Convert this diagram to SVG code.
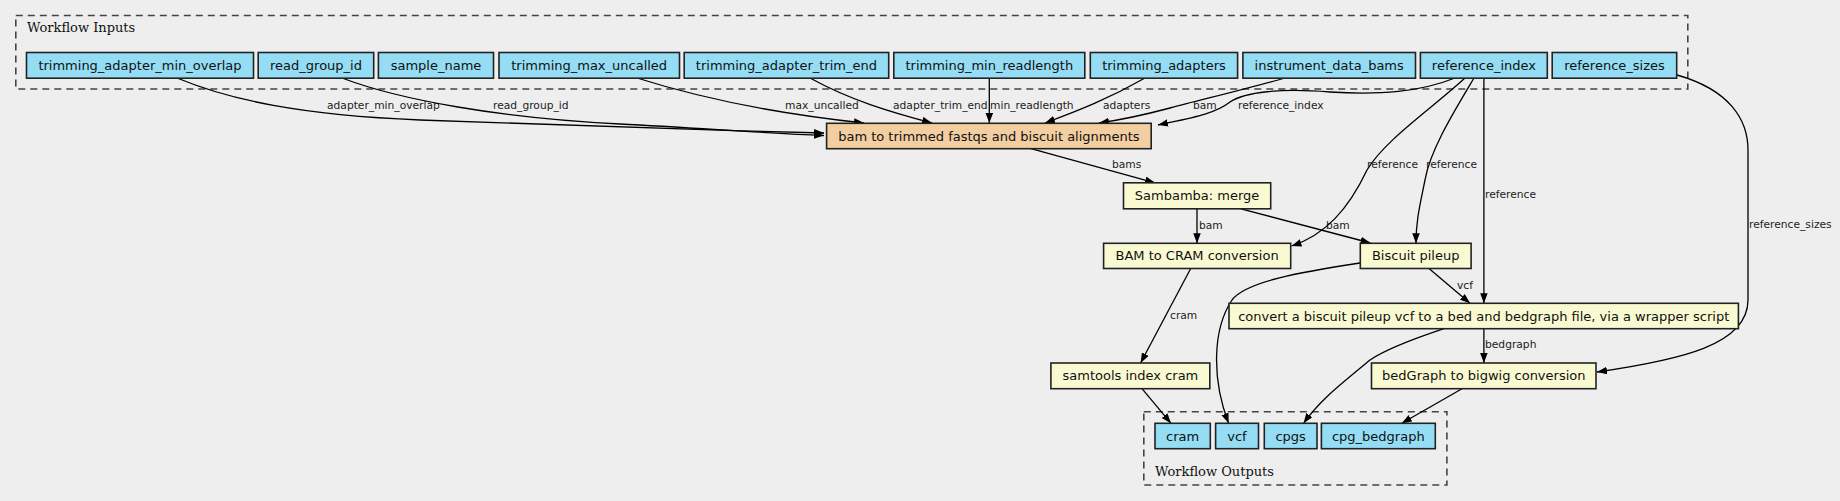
<svg xmlns="http://www.w3.org/2000/svg" width="1840" height="501" viewBox="0 0 1840 501">
<defs>
<marker id="arr" markerUnits="userSpaceOnUse" markerWidth="11" markerHeight="8" refX="10" refY="3.75" orient="auto">
<path d="M0,0 L10,3.75 L0,7.5 z" fill="#000"/>
</marker>
<style>
.bg{fill:#eeeeee}
.cl{fill:none;stroke:#444;stroke-width:1.6;stroke-dasharray:7,5}
.clt{font-family:"DejaVu Serif",serif;font-size:13px;fill:#111}
.in rect{fill:#94ddf4;stroke:#222;stroke-width:1.6}
.st rect{fill:#fafad2;stroke:#222;stroke-width:1.6}
.sw rect{fill:#f3cea1;stroke:#222;stroke-width:1.6}
.n text{font-family:"DejaVu Sans",sans-serif;font-size:13px;fill:#111;text-anchor:middle;dominant-baseline:central}
.e path{fill:none;stroke:#000;stroke-width:1.3;marker-end:url(#arr)}
.e text{font-family:"DejaVu Sans",sans-serif;font-size:10.7px;fill:#222;dominant-baseline:central}
</style>
</defs>
<rect class="bg" x="0" y="0" width="1840" height="501"/>
<g id="cluster_inputs">
<rect class="cl" x="15.8" y="15.5" width="1672" height="73.5"/>
<text class="clt" x="27" y="32">Workflow Inputs</text>
</g>
<g id="cluster_outputs">
<rect class="cl" x="1143.8" y="411.7" width="303.1" height="73.3"/>
<text class="clt" x="1155" y="476">Workflow Outputs</text>
</g>
<g id="connectors" class="e">
<path d="M177,78 C230,100 300,115 420,120 C600,127 700,130 824,133"/>
<text x="327" y="105">adapter_min_overlap</text>
<path d="M342,78 C400,100 500,118 620,124 C700,128 760,133 824,135.5"/>
<text x="493" y="105">read_group_id</text>
<path d="M637,78 C700,98 780,114 864,123"/>
<text x="785" y="105">max_uncalled</text>
<path d="M810,78 C850,100 890,112 932,123"/>
<text x="893" y="105">adapter_trim_end</text>
<path d="M989.3,78 L989.3,123"/>
<text x="990" y="105">min_readlength</text>
<path d="M1145,78 C1110,98 1080,110 1045,123"/>
<text x="1103" y="105">adapters</text>
<path d="M1285,78 C1250,88 1200,100 1170,108 C1140,116 1120,120 1099,123"/>
<text x="1193" y="105">bam</text>
<path d="M1455,78 C1420,92 1380,95 1330,92 C1280,88 1245,92 1230,102 C1215,114 1190,118 1158,125"/>
<text x="1238" y="105">reference_index</text>
<path d="M1031,148.7 L1155,182.8"/>
<text x="1112" y="164.5">bams</text>
<path d="M1197,208.8 L1197,243.3"/>
<text x="1199" y="225">bam</text>
<path d="M1241,208.8 L1370.5,243"/>
<text x="1326" y="225">bam</text>
<path d="M1465,78 C1430,110 1385,140 1367,170 C1348,210 1325,235 1291.5,246"/>
<text x="1367" y="164.7">reference</text>
<path d="M1474,78 C1455,110 1430,150 1425,180 C1420,205 1416,220 1416,243.3"/>
<text x="1426" y="164.7">reference</text>
<path d="M1483.9,78 L1483.9,303.3"/>
<text x="1485" y="194.3">reference</text>
<path d="M1677,75 C1730,90 1748,120 1748,150 L1748,300 C1748,345 1680,360 1597,372"/>
<text x="1749" y="224.7">reference_sizes</text>
<path d="M1360,263 C1300,272 1245,282 1232,300 C1212,330 1212,380 1228.6,423.3"/>
<path d="M1429,268.5 L1470,303.3"/>
<text x="1457" y="285">vcf</text>
<path d="M1190.7,268.5 L1140.6,363"/>
<text x="1170" y="315">cram</text>
<path d="M1142,388.7 L1171,423.3"/>
<path d="M1444,328.7 C1410,340 1385,350 1370,360 C1340,385 1320,400 1303.6,423.3"/>
<path d="M1483.9,328.7 L1483.9,363"/>
<text x="1485" y="344.5">bedgraph</text>
<path d="M1462,388.7 L1401.8,423.3"/>
</g>
<g id="trimming_adapter_min_overlap" class="n in"><rect x="26.5" y="52.5" width="227" height="25.7"/><text x="140" y="65.3">trimming_adapter_min_overlap</text></g>
<g id="read_group_id" class="n in"><rect x="258.2" y="52.5" width="115.5" height="25.7"/><text x="316" y="65.3">read_group_id</text></g>
<g id="sample_name" class="n in"><rect x="378.4" y="52.5" width="115.1" height="25.7"/><text x="436" y="65.3">sample_name</text></g>
<g id="trimming_max_uncalled" class="n in"><rect x="499" y="52.5" width="180.5" height="25.7"/><text x="589.2" y="65.3">trimming_max_uncalled</text></g>
<g id="trimming_adapter_trim_end" class="n in"><rect x="684.2" y="52.5" width="204.5" height="25.7"/><text x="786.4" y="65.3">trimming_adapter_trim_end</text></g>
<g id="trimming_min_readlength" class="n in"><rect x="893.8" y="52.5" width="191" height="25.7"/><text x="989.3" y="65.3">trimming_min_readlength</text></g>
<g id="trimming_adapters" class="n in"><rect x="1090.3" y="52.5" width="147.3" height="25.7"/><text x="1164" y="65.3">trimming_adapters</text></g>
<g id="instrument_data_bams" class="n in"><rect x="1242.9" y="52.5" width="172.6" height="25.7"/><text x="1329.2" y="65.3">instrument_data_bams</text></g>
<g id="reference_index" class="n in"><rect x="1420.4" y="52.5" width="126.9" height="25.7"/><text x="1483.9" y="65.3">reference_index</text></g>
<g id="reference_sizes" class="n in"><rect x="1552.2" y="52.5" width="124.5" height="25.7"/><text x="1614.5" y="65.3">reference_sizes</text></g>
<g id="bam_to_trimmed_fastqs" class="n sw"><rect x="826.6" y="123.3" width="324.6" height="25.4"/><text x="988.9" y="136">bam to trimmed fastqs and biscuit alignments</text></g>
<g id="sambamba_merge" class="n st"><rect x="1123.5" y="182.8" width="147.2" height="26"/><text x="1197.1" y="195.8">Sambamba: merge</text></g>
<g id="bam_to_cram" class="n st"><rect x="1103.6" y="243.3" width="187.1" height="25.2"/><text x="1197.1" y="255.9">BAM to CRAM conversion</text></g>
<g id="biscuit_pileup" class="n st"><rect x="1360.3" y="243.3" width="110.8" height="25.2"/><text x="1415.7" y="255.9">Biscuit pileup</text></g>
<g id="vcf2bed" class="n st"><rect x="1229" y="303.3" width="509.4" height="25.4"/><text x="1483.7" y="316">convert a biscuit pileup vcf to a bed and bedgraph file, via a wrapper script</text></g>
<g id="samtools_index_cram" class="n st"><rect x="1050.9" y="363" width="158.9" height="25.7"/><text x="1130.4" y="375.8">samtools index cram</text></g>
<g id="bedgraph_to_bigwig" class="n st"><rect x="1371.5" y="363" width="224.5" height="25.7"/><text x="1483.8" y="375.8">bedGraph to bigwig conversion</text></g>
<g id="out_cram" class="n in"><rect x="1155" y="423.3" width="55.3" height="25.4"/><text x="1182.6" y="436">cram</text></g>
<g id="out_vcf" class="n in"><rect x="1215.6" y="423.3" width="42.9" height="25.4"/><text x="1237" y="436">vcf</text></g>
<g id="out_cpgs" class="n in"><rect x="1264.3" y="423.3" width="52.7" height="25.4"/><text x="1290.6" y="436">cpgs</text></g>
<g id="out_cpg_bedgraph" class="n in"><rect x="1321.4" y="423.3" width="113.9" height="25.4"/><text x="1378.3" y="436">cpg_bedgraph</text></g>
</svg>
